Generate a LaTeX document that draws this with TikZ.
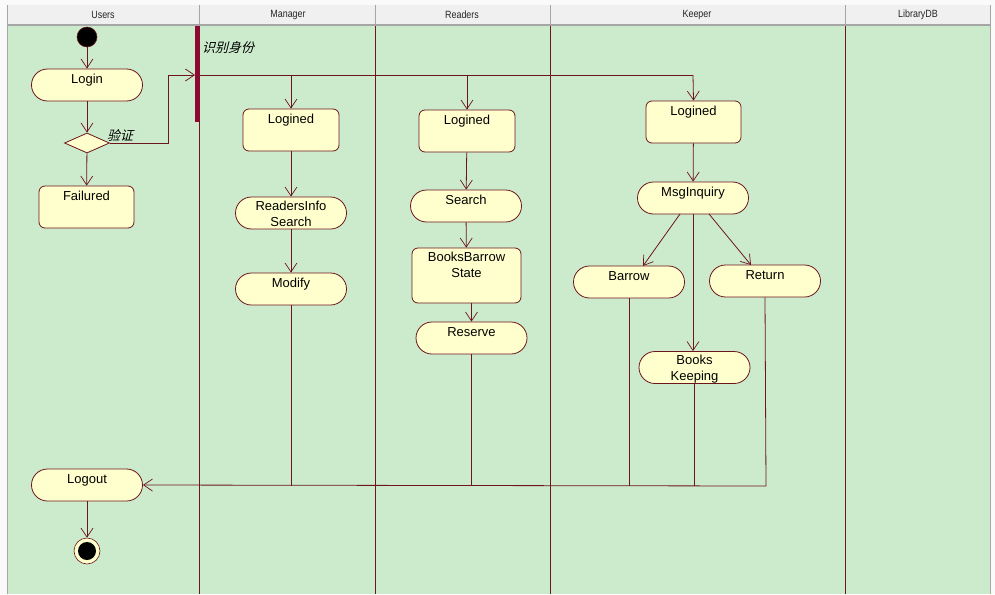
\documentclass[tikz,border=0pt]{standalone}
\usepackage{fontspec}
\setmainfont{Liberation Sans}
\newfontfamily\cjk[FakeSlant=0.25]{Noto Sans CJK SC}
\usetikzlibrary{shapes.misc,shapes.geometric,arrows.meta}
\definecolor{lane}{RGB}{204,235,204}
\definecolor{ln}{RGB}{110,20,28}
\definecolor{nf}{RGB}{255,255,206}
\definecolor{bar}{RGB}{140,10,50}
\definecolor{hdr}{RGB}{240,240,240}
\tikzset{
  act/.style={rounded rectangle, draw=ln, fill=nf, line width=0.8pt, minimum width=111pt, minimum height=32pt, inner sep=0pt},
  st/.style={rectangle, rounded corners=6pt, draw=ln, fill=nf, line width=0.8pt, inner sep=0pt},
  lbl/.style={anchor=north, inner sep=0pt, font=\fontsize{13}{16}\selectfont, align=center, yshift=-5.5pt},
  flow/.style={draw=ln, line width=0.8pt},
  arr/.style={flow, -{Straight Barb[length=9pt,width=12pt,line width=0.7pt]}},
  hd/.style={font=\fontsize{10.5}{12}\selectfont\addfontfeatures{FakeStretch=0.85}, inner sep=0pt, text=black!85},
  cjkl/.style={inner sep=0pt, font=\cjk\fontsize{13}{14}\selectfont}
}
\begin{document}
\begin{tikzpicture}[x=1pt,y=-1pt]
\useasboundingbox (0,0) rectangle (995,594);
% backgrounds
\fill[white!96!gray] (0,0) rectangle (995,594);
\fill[hdr] (8,5) rectangle (990,24);
\fill[lane] (8,26) rectangle (990,594);
\draw[gray!70, line width=2pt] (8,25) -- (990,25);
\draw[gray!70, line width=1pt] (7,5) -- (7,594);
\draw[gray!70, line width=1pt] (990.5,5) -- (990.5,594);
% header separators and titles
\foreach \x in {199,375,550,845}{\draw[gray!70, line width=0.8pt] (\x,5) -- (\x,24);}
\node[hd] (hU) at (103,14.5) {Users};
\node[hd] (hM) at (288,14.5) {Manager};
\node[hd] (hR) at (462,14.5) {Readers};
\node[hd] (hK) at (697,14.5) {Keeper};
\node[hd] (hL) at (918,14.5) {LibraryDB};
% lane lines
\foreach \x in {199,375,550,845}{\draw[ln, line width=0.8pt] (\x,26) -- (\x,594);}
% sync bar
\node[rectangle, fill=bar, minimum width=5pt, minimum height=96pt, inner sep=0pt, anchor=north] (sync) at (197.5,26) {};
\node[cjkl, anchor=west] (syncl) at (202,48) {识别身份};
% Users lane
\node[circle, fill=black, draw=ln, line width=0.5pt, minimum size=20pt, inner sep=0pt] (start) at (87,37) {};
\node[act] (login) at (87,85) {};
\node[lbl] (loginl) at (login.north) {Login};
\node[diamond, draw=ln, fill=nf, line width=0.8pt, minimum width=45pt, minimum height=20pt, inner sep=0pt, aspect=2.25] (dec) at (87,143) {};
\node[cjkl, anchor=south west] (decl) at (107,142) {验证};
\node[st, minimum width=95pt, minimum height=42pt] (fail) at (86.5,207) {};
\node[lbl] (faill) at (fail.north) {Failured};
\node[act] (logout) at (87,485) {};
\node[lbl] (logoutl) at (logout.north) {Logout};
\node[circle, fill=nf, draw=ln, line width=0.6pt, minimum size=26pt, inner sep=0pt] (end) at (87,551) {};
\node[circle, fill=black, minimum size=18pt, inner sep=0pt] (endi) at (87,551) {};
% Manager lane
\node[st, minimum width=96pt, minimum height=42pt] (log1) at (291,130) {};
\node[lbl] (log1l) at (log1.north) {Logined};
\node[act] (ris) at (291,213) {};
\node[lbl, yshift=1pt] (risl) at (ris.north) {ReadersInfo\\Search};
\node[act] (modify) at (291,289) {};
\node[lbl] (modifyl) at (modify.north) {Modify};
% Readers lane
\node[st, minimum width=96pt, minimum height=42pt] (log2) at (467,131) {};
\node[lbl] (log2l) at (log2.north) {Logined};
\node[act] (search) at (466,206) {};
\node[lbl] (searchl) at (search.north) {Search};
\node[st, minimum width=109pt, minimum height=55pt] (bbs) at (466.5,275.5) {};
\node[lbl, yshift=1pt] (bbsl) at (bbs.north) {BooksBarrow\\State};
\node[act] (reserve) at (471.5,338) {};
\node[lbl] (reservel) at (reserve.north) {Reserve};
% Keeper lane
\node[st, minimum width=95pt, minimum height=42pt] (log3) at (693.5,122) {};
\node[lbl] (log3l) at (log3.north) {Logined};
\node[act] (msg) at (693,198) {};
\node[lbl] (msgl) at (msg.north) {MsgInquiry};
\node[act] (barrow) at (629,282) {};
\node[lbl] (barrowl) at (barrow.north) {Barrow};
\node[act] (ret) at (765,281) {};
\node[lbl] (retl) at (ret.north) {Return};
\node[act] (bk) at (694.5,367.5) {};
\node[lbl, yshift=2pt] (bkl) at (bk.north) {Books\\Keeping};
% coordinates
\coordinate (d1) at (168,143);
\coordinate (d2) at (168,75);
\coordinate (s1) at (195,75);
\coordinate (hr) at (693,75);
\coordinate (mrg) at (766,486);
% connectors
\draw[arr] (start) -- (login);
\draw[arr] (login) -- (dec);
\draw[arr] (dec) -- (fail);
\draw[arr] (dec.east) -- (d1) -- (d2) -- (s1);
\draw[flow] (200,75) -- (hr);
\draw[arr] (log1.north |- s1) -- (log1.north);
\draw[arr] (log2.north |- s1) -- (log2.north);
\draw[arr] (hr) -- (log3.north);
\draw[arr] (log1) -- (ris);
\draw[arr] (ris) -- (modify);
\draw[arr] (log2) -- (search);
\draw[arr] (search) -- (bbs);
\draw[arr] (bbs.south -| reserve.north) -- (reserve.north);
\draw[arr] (log3) -- (msg);
\draw[arr] (680,214) -- (643,266);
\draw[arr] (709,214) -- (751,265);
\draw[arr] (msg.south) -- (msg.south |- bk.north);
% merge to logout
\draw[flow] (modify.south) -- (modify.south |- mrg);
\draw[flow] (reserve.south) -- (reserve.south |- mrg);
\draw[flow] (barrow.south) -- (barrow.south |- mrg);
\draw[flow] (bk.south) -- (bk.south |- mrg);
\draw[flow] (ret.south) -- (mrg);
\draw[arr] (mrg) -- (logout.east);
\draw[arr] (logout) -- (end);
\end{tikzpicture}
\end{document}
